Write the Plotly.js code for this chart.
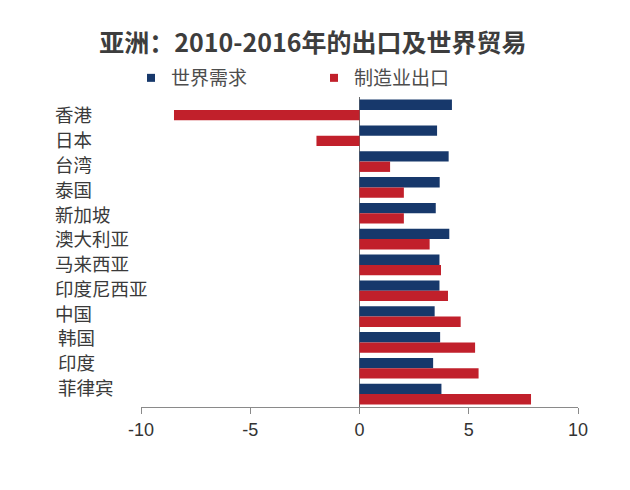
<!DOCTYPE html>
<html>
<head>
<meta charset="utf-8">
<script src="https://cdn.plot.ly/plotly-3.0.1.min.js"></script>
<style>html,body{margin:0;padding:0;background:#fff;}#chart{width:630px;height:490px;}</style>
</head>
<body>
<div id="chart"></div>
<script>
// ---- data ----
const categories = ['香港','日本','台湾','泰国','新加坡','澳大利亚','马来西亚','印度尼西亚','中国','韩国','印度','菲律宾'];
const worldDemand = [4.23, 3.55, 4.08, 3.67, 3.49, 4.11, 3.66, 3.66, 3.44, 3.69, 3.37, 3.75];
const mfgExports = [-8.49, -1.97, 1.40, 2.03, 2.03, 3.21, 3.73, 4.05, 4.63, 5.29, 5.45, 7.85];
const seriesNames = ['世界需求', '制造业出口'];
const xTickVals = [-10, -5, 0, 5, 10];
const xTickText = ['-10', '-5', '0', '5', '10'];
const titleText = '亚洲：2010-2016年的出口及世界贸易';

// ---- style ----
const BLUE = '#17386b';
const RED = '#c1202b';
const W = 630, H = 490;
const M = {l: 141, r: 52, t: 91, b: 83, pad: 0};
const plotW = W - M.l - M.r;
const CJK = '"Noto Sans CJK SC", "Noto Sans", sans-serif';

const traces = [
  {type: 'bar', orientation: 'h', name: seriesNames[0], y: categories, x: worldDemand,
   marker: {color: BLUE}, showlegend: false, hoverinfo: 'skip'},
  {type: 'bar', orientation: 'h', name: seriesNames[1], y: categories, x: mfgExports,
   marker: {color: RED}, showlegend: false, hoverinfo: 'skip'},
  {type: 'scatter', mode: 'markers', name: seriesNames[0], x: [null], y: [null],
   marker: {symbol: 'square', size: 8, color: BLUE}, legend: 'legend', showlegend: true},
  {type: 'scatter', mode: 'markers', name: seriesNames[1], x: [null], y: [null],
   marker: {symbol: 'square', size: 8, color: RED}, legend: 'legend2', showlegend: true}
];

const labelX = [54,54,54,54,54,54,54,54,54,57,57,57];
const annotations = categories.map((c, i) => ({
  xref: 'paper', yref: 'y',
  x: (labelX[i] - M.l) / plotW, y: c,
  xanchor: 'left', yanchor: 'middle',
  yshift: -(4 - 1.05 * i),
  height: 21, borderpad: 0,
  text: c, showarrow: false,
  font: {family: CJK, size: 18.5, color: '#3a3a3a'}
}));

const layout = {
  width: W, height: H,
  margin: M,
  paper_bgcolor: '#ffffff', plot_bgcolor: '#ffffff',
  barmode: 'group', bargap: 0.2, bargroupgap: 0,
  title: {
    text: '<b>' + titleText + '</b>',
    font: {family: CJK, size: 25, color: '#3d3d3d'},
    x: 313 / W, xanchor: 'center', xref: 'container',
    y: 1 - 43 / H, yanchor: 'middle', yref: 'container'
  },
  xaxis: {
    range: [-10, 10], fixedrange: true,
    tickvals: xTickVals, ticktext: xTickText,
    showgrid: false,
    zeroline: true, zerolinecolor: '#6b6b6b', zerolinewidth: 1,
    showline: true, linecolor: '#8a8a8a', linewidth: 1,
    ticks: 'outside', ticklen: 6, tickcolor: '#8a8a8a', tickwidth: 1,
    tickfont: {family: 'Liberation Sans, Arial, sans-serif', size: 18, color: '#333333'}
  },
  yaxis: {
    type: 'category', range: [11.5, -0.5], fixedrange: true,
    showticklabels: false, showgrid: false, zeroline: false, showline: false, ticks: ''
  },
  showlegend: true,
  legend: {
    orientation: 'h', xref: 'container', yref: 'container',
    x: 131 / W, xanchor: 'left', y: 1 - 78 / H, yanchor: 'middle',
    font: {family: CJK, size: 19, color: '#4d4d4d'},
    bgcolor: 'rgba(0,0,0,0)', borderwidth: 0
  },
  legend2: {
    orientation: 'h', xref: 'container', yref: 'container',
    x: 314 / W, xanchor: 'left', y: 1 - 78 / H, yanchor: 'middle',
    font: {family: CJK, size: 19, color: '#4d4d4d'},
    bgcolor: 'rgba(0,0,0,0)', borderwidth: 0
  },
  annotations: annotations
};

Plotly.newPlot('chart', traces, layout, {staticPlot: true, displayModeBar: false});
</script>
</body>
</html>
